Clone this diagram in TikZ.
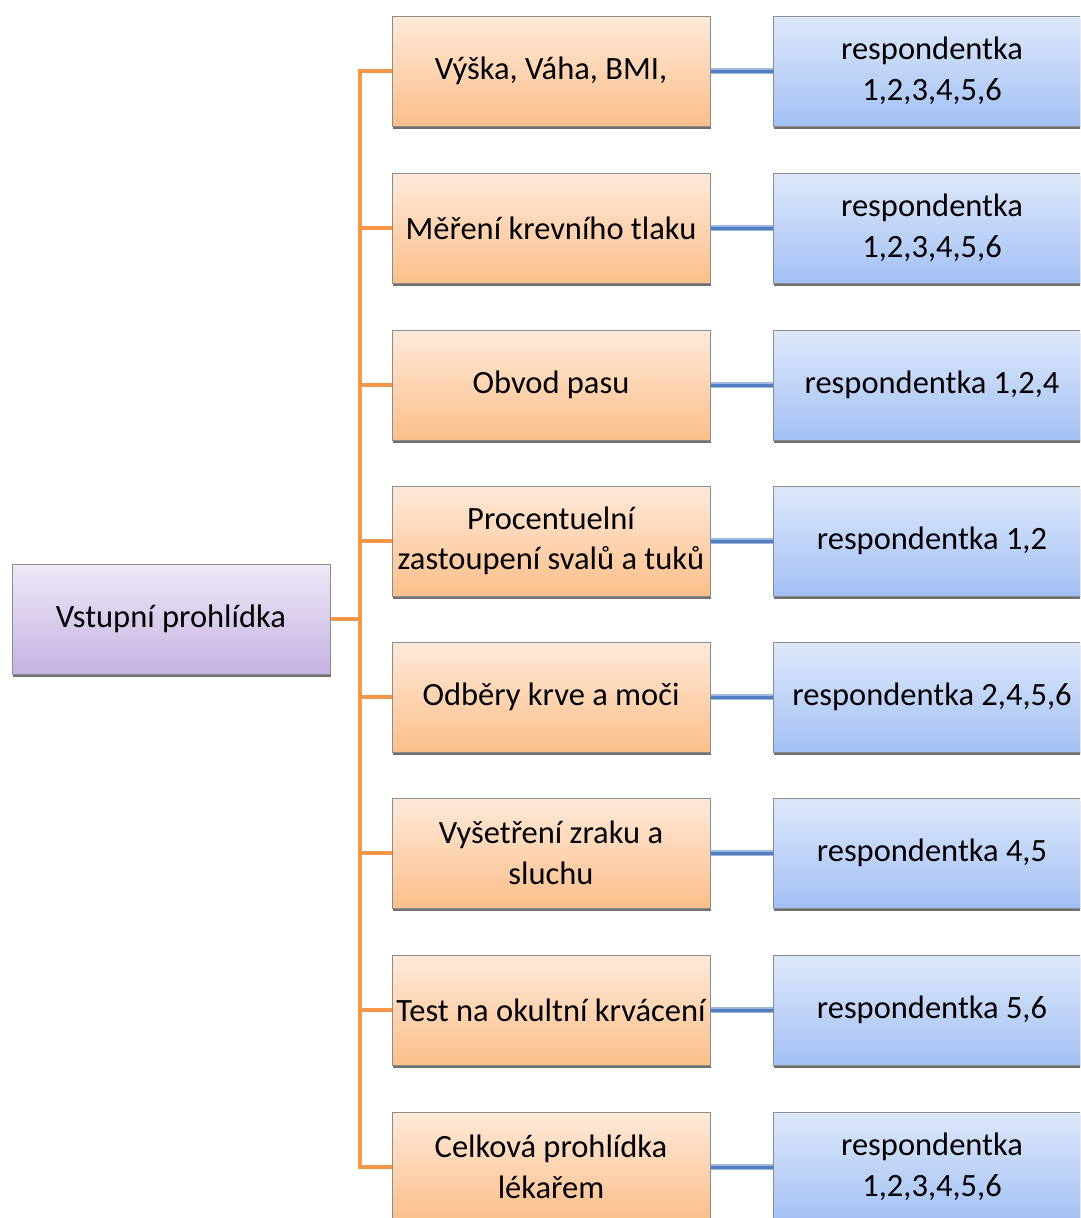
\documentclass[tikz,border=0pt]{standalone}
\usepackage{fontspec}
\setmainfont{Carlito}
\usetikzlibrary{shadows}
\definecolor{orangeTop}{HTML}{FFE9DA}
\definecolor{orangeBot}{HTML}{FBBF8A}
\definecolor{blueTop}{HTML}{DEE8FB}
\definecolor{blueBot}{HTML}{A3C0F4}
\definecolor{lilacTop}{HTML}{EEE8F7}
\definecolor{lilacBot}{HTML}{C5B3E2}
\definecolor{edge}{HTML}{8C8C8C}
\definecolor{linkOrange}{HTML}{F79646}
\definecolor{linkBlue}{HTML}{4F7FBE}
\definecolor{linkBlueLight}{HTML}{9DB7E0}
\tikzset{
  base/.style={draw=edge, line width=1pt, minimum width=318pt, minimum height=110pt,
    align=center, inner sep=1pt, text=black,
    font=\fontsize{32.5}{40.5}\selectfont,
    drop shadow={shadow xshift=1pt, shadow yshift=-2.5pt, fill=black!70, opacity=0.8}},
  obox/.style={base, top color=orangeTop, bottom color=orangeBot},
  bbox/.style={base, top color=blueTop, bottom color=blueBot},
  rbox/.style={base, top color=lilacTop, bottom color=lilacBot},
  oline/.style={draw=linkOrange, line width=4.5pt, line join=miter},
  bline/.style={draw=linkBlueLight, line width=6pt,
    postaction={draw=linkBlue, line width=3pt}},
}
\begin{document}
\begin{tikzpicture}[x=1pt, y=-1pt]
\useasboundingbox (0,0) rectangle (1080,1218);
\clip (0,0) rectangle (1080,1218);
\fill[white] (0,0) rectangle (1080,1218);

% root
\node[rbox] (root) at (171,619) {Vstupní prohlídka};
\coordinate (tk) at (360,619);

% examinations
\node[obox] (o1) at (551,71)   {Výška, Váha, BMI,};
\node[obox] (o2) at (551,228)  {Měření krevního tlaku};
\node[obox] (o3) at (551,385)  {Obvod pasu};
\node[obox] (o4) at (551,541)  {Procentuelní\\zastoupení svalů a tuků};
\node[obox] (o5) at (551,697)  {Odběry krve a moči};
\node[obox] (o6) at (551,853)  {Vyšetření zraku a\\sluchu};
\node[obox] (o7) at (551,1010) {Test na okultní krvácení};
\node[obox] (o8) at (551,1167) {Celková prohlídka\\lékařem};

% respondents
\node[bbox] (b1) at (932,71)   {respondentka\\1,2,3,4,5,6};
\node[bbox] (b2) at (932,228)  {respondentka\\1,2,3,4,5,6};
\node[bbox] (b3) at (932,385)  {respondentka 1,2,4};
\node[bbox] (b4) at (932,541)  {respondentka 1,2};
\node[bbox] (b5) at (932,697)  {respondentka 2,4,5,6};
\node[bbox] (b6) at (932,853)  {respondentka 4,5};
\node[bbox] (b7) at (932,1010) {respondentka 5,6};
\node[bbox] (b8) at (932,1167) {respondentka\\1,2,3,4,5,6};

% tree connectors
\draw[oline] (root.east) -- (tk);
\foreach \i in {1,...,8} {
  \draw[oline] (tk) |- (o\i.west);
  \draw[bline] (o\i.east) -- (b\i.west);
}
\end{tikzpicture}
\end{document}
